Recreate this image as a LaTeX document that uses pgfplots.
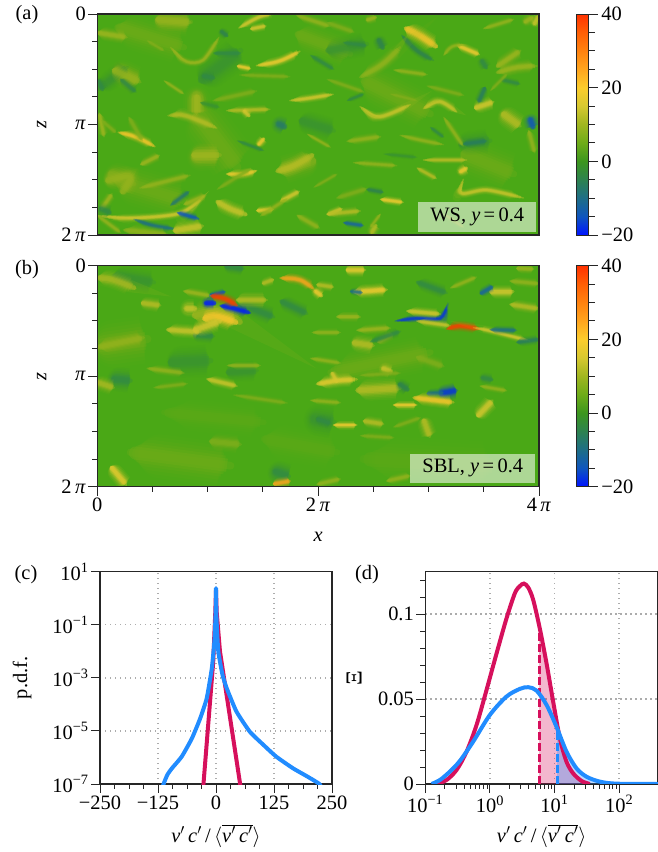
\documentclass[border=0pt]{standalone}
\usepackage{fontspec}
\setmainfont{Liberation Serif}
\usepackage{pgfplots}
\pgfplotsset{compat=1.18}
\definecolor{base}{RGB}{74,168,22}
\definecolor{m20}{RGB}{0,25,255}\definecolor{m18}{RGB}{5,50,225}\definecolor{m15}{RGB}{15,85,190}
\definecolor{m12}{RGB}{25,100,160}\definecolor{m10}{RGB}{30,110,135}\definecolor{m8}{RGB}{38,120,110}
\definecolor{m7}{RGB}{40,125,95}\definecolor{m6}{RGB}{45,130,80}\definecolor{m5}{RGB}{50,138,70}\definecolor{m3}{RGB}{58,148,50}
\definecolor{c3}{RGB}{92,170,24}\definecolor{c5}{RGB}{110,172,25}\definecolor{c7}{RGB}{130,175,28}\definecolor{c9}{RGB}{150,180,30}\definecolor{c10}{RGB}{160,182,32}\definecolor{c11}{RGB}{172,186,35}
\definecolor{c12}{RGB}{185,190,38}\definecolor{c14}{RGB}{205,198,45}\definecolor{c15}{RGB}{215,200,48}
\definecolor{c17}{RGB}{235,205,50}\definecolor{c18}{RGB}{245,205,50}\definecolor{c20}{RGB}{252,200,45}
\definecolor{c25}{RGB}{255,165,30}\definecolor{c30}{RGB}{255,130,15}\definecolor{c38}{RGB}{255,60,0}
\definecolor{mag}{RGB}{214,16,92}\definecolor{blu}{RGB}{33,140,255}\definecolor{spine}{gray}{0.15}
\newcommand\fs{\fontsize{20.5}{24}\selectfont}
\newcommand\ip{\textit{π}}
\newcommand\tenp[1]{10\textsuperscript{#1}}
\newcommand\vc{\textit{v}$'$\,\textit{c}$'$}
\newcommand\flux{\vc\,/\,$\langle\overline{\mbox{\vc}}\rangle$}
% one soft streak of the field: nested strokes, the wide ones shorter and fainter, so it tapers
\def\scan(#1,#2){\ifx\fx\empty\def\fx{#1}\def\fy{#2}\fi\def\lx{#1}\def\ly{#2}\futurelet\nxt\scanchk}
\def\scanchk{\ifx\nxt\relax\let\go\scanend\else\let\go\scan\fi\go}
\def\scanend\relax{}
\newcommand\lay[5]{\addplot[forget plot,smooth,line cap=round,draw=#1,opacity=#3,line width=#2*1bp,shorten >=#4bp,shorten <=#4bp] coordinates {#5};}
\newcommand\st[3]{%
\def\fx{}\scan#3\relax
\pgfmathsetmacro\Ln{veclen(\lx-\fx,\ly-\fy)/3}%
\pgfmathsetmacro\Sa{\Ln*.30}\pgfmathsetmacro\Sb{\Ln*.26}\pgfmathsetmacro\Sc{\Ln*.21}\pgfmathsetmacro\Sd{\Ln*.16}\pgfmathsetmacro\Se{\Ln*.11}\pgfmathsetmacro\Sf{\Ln*.05}%
\edef\tmp{\noexpand\lay{#2}{#1*2.0}{.07}{\Sa}{#3}\noexpand\lay{#2}{#1*1.7}{.09}{\Sb}{#3}\noexpand\lay{#2}{#1*1.4}{.13}{\Sc}{#3}\noexpand\lay{#2}{#1*1.1}{.2}{\Sd}{#3}\noexpand\lay{#2}{#1*.85}{.3}{\Se}{#3}\noexpand\lay{#2}{#1*.6}{.45}{\Sf}{#3}\noexpand\lay{#2}{#1*.35}{.35}{0}{#3}}\tmp}
\pgfplotsset{
 colormap={hm}{rgb255=(0,20,255) rgb255=(15,85,190) rgb255=(30,110,135) rgb255=(45,130,80) rgb255=(60,150,30) rgb255=(110,172,25) rgb255=(160,182,32) rgb255=(215,200,48) rgb255=(252,205,45) rgb255=(255,165,30) rgb255=(255,130,15) rgb255=(255,95,5) rgb255=(255,50,0)},
 common/.style={scale only axis,anchor=south west,font=\fs,axis line style={spine,line width=1.1bp},
  every tick/.style={spine,line width=.9bp},tick align=outside,major tick length=9bp,minor tick length=5bp,
  tick label style={font=\fs},label style={font=\fs},
  every x tick label/.append style={yshift=1bp},every y tick label/.append style={xshift=1bp}},
 heat/.style={common,width=441.7bp,height=221bp,xmin=0,xmax=1326,ymin=0,ymax=663,y dir=reverse,
  axis background/.style={fill=base},axis on top,
  ytick={0,331.5,663},yticklabels={0,\ip,2\,\ip},minor ytick={82.875,165.75,248.625,414.375,497.25,580.125},
  xtick pos=bottom,ytick pos=left,
  ylabel={\textit{z}},every axis y label/.style={at={(axis description cs:-0.126,0.5)},rotate=90,anchor=center},
  colormap name=hm,point meta min=-20,point meta max=40,colorbar,
  colorbar style={at={(parent axis.north east)},anchor=north west,xshift=29.3bp,width=12bp,height=221bp,scale only axis,
   ytick={-20,0,20,40},yticklabels={−20,0,20,40},minor y tick num=3,ytick pos=right,yticklabel pos=right,
   axis line style={spine,line width=.9bp},
   every tick/.style={spine,line width=.9bp},major tick length=9bp,minor tick length=6bp,tick align=outside,
   tick label style={font=\fs,xshift=0bp}}},
 pgrid/.style={grid=major,grid style={gray!65,line width=1.4bp,dash pattern=on 1.4bp off 3.6bp}},
}
\begin{document}
\begin{tikzpicture}[x=1bp,y=1bp]
\path[use as bounding box] (0,0) rectangle (658,852);
% ---------- (a)
\begin{axis}[heat,at={(97.3bp,617bp)},xtick=\empty]
\st{18}{c5}{(60,40)(260,100)}\st{24}{c5}{(300,300)(420,460)}\st{20}{c5}{(800,200)(1000,300)}\st{20}{c5}{(1100,420)(1250,480)}\st{20}{c5}{(60,500)(260,560)}
\st{16}{c5}{(600,60)(760,120)}\st{14}{c7}{(40,480)(110,510)}\st{14}{c7}{(290,430)(360,425)}\st{14}{c7}{(60,170)(120,200)}\st{14}{c7}{(298,240)(298,300)}\st{14}{c7}{(180,20)(280,24)}\st{14}{c7}{(650,440)(550,470)}
\st{16}{m3}{(310,200)(430,110)}\st{12}{m3}{(690,110)(810,90)}\st{12}{m3}{(610,320)(710,350)}\st{10}{m3}{(10,220)(90,160)}\st{12}{m3}{(1090,390)(1180,380)}
\st{5}{c20}{(63,355)(118,370)(173,398)}
\st{4.5}{c15}{(0,605)(108,612)(248,598)(318,548)}
\st{4.5}{m15}{(240,596)(275,606)(305,615)}
\st{4}{m10}{(110,616)(170,635)(235,645)}
\st{9}{c14}{(230,650)(316,636)}
\st{5}{c18}{(478,155)(550,140)(608,112)}
\st{4.5}{c15}{(578,260)(640,252)(708,241)}
\st{6}{c12}{(213,305)(268,306)(358,342)}
\st{5}{c18}{(388,480)(440,480)(478,470)}
\st{9}{c12}{(538,472)(590,455)(648,422)}
\st{5}{c15}{(550,562)(606,532)}
\st{8}{c14}{(358,562)(400,585)(448,602)}
\st{4.5}{c17}{(478,590)(528,586)}
\st{4.5}{c15}{(690,602)(735,584)}
\st{4.5}{c15}{(425,42)(488,8)(525,0)}
\st{4.5}{c15}{(460,45)(506,36)}
\st{10}{c9}{(178,16)(278,25)}
\st{7}{c10}{(0,56)(88,70)}
\st{10}{c10}{(298,248)(298,298)}
\st{4.5}{c12}{(388,290)(518,286)}
\st{11}{c10}{(288,423)(368,423)}
\st{5}{c10}{(130,452)(186,424)}
\st{10}{c9}{(48,168)(128,204)}
\st{4}{c10}{(220,100)(268,143)(318,138)(365,70)}
\st{4}{c18}{(420,156)(460,164)}
\st{5}{c18}{(484,392)(500,374)}
\st{5}{c15}{(441,291)(456,306)}
\st{5}{c10}{(6,298)(20,368)}
\st{10}{c9}{(30,500)(98,488)(75,535)}
\st{5}{c9}{(128,522)(278,484)}
\st{5}{c10}{(12,586)(44,540)}
\st{5}{c9}{(600,604)(666,642)}
\st{5}{c10}{(260,572)(326,544)}
\st{4}{c7}{(428,183)(578,188)}
\st{5}{c7}{(348,260)(478,231)}
\st{5}{c9}{(598,4)(698,37)}
\st{4}{c7}{(14,320)(56,356)}\st{5}{c7}{(95,310)(135,380)}\st{4}{c7}{(360,526)(460,464)}\st{4}{c9}{(570,554)(490,606)}\st{4}{c9}{(0,604)(70,656)}\st{7}{c9}{(80,648)(210,662)}
\st{5}{m5}{(70,196)(116,234)}
\st{9}{m8}{(544,330)(562,338)}
\st{5}{m5}{(350,118)(430,118)}
\st{4}{m3}{(310,266)(366,280)}
\st{5}{m6}{(372,52)(390,66)}
\st{4}{m8}{(220,574)(276,532)}
\st{4}{m5}{(640,124)(710,166)}
\st{7}{m5}{(10,584)(38,596)}
\st{6}{m5}{(318,186)(350,192)}
\st{6}{m5}{(2,200)(16,228)}
% right half
\st{9}{c20}{(924,42)(970,66)(1019,99)}
\st{5}{c18}{(1081,94)(1147,122)}
\st{3.5}{c9}{(1040,124)(1065,98)(1098,92)}
\st{5}{m6}{(914,64)(960,110)(1009,139)}
\st{5}{c14}{(789,278)(849,308)(939,272)}
\st{5}{c14}{(979,284)(1029,263)(1079,294)}
\st{7}{c15}{(1134,282)(1189,264)}
\st{7}{c9}{(789,190)(859,148)(909,100)}
\st{11}{c12}{(1219,300)(1269,336)}
\st{8}{m15}{(1300,316)(1308,340)}
\st{5}{c9}{(1295,350)(1313,416)}
\st{5}{m7}{(1099,390)(1169,381)}
\st{4}{c9}{(1040,310)(1098,396)}
\st{6}{c18}{(1090,473)(1108,463)}
\st{4.5}{c14}{(1099,496)(1095,538)(1169,528)(1279,552)}
\st{4.5}{c18}{(850,556)(918,565)}
\st{5}{c12}{(689,600)(789,591)}
\st{4}{m12}{(739,626)(799,635)}
\st{7}{c10}{(1199,176)(1260,160)(1319,156)}
\st{5}{m7}{(1164,220)(1144,266)}
\st{5}{c10}{(810,18)(836,10)}\st{6}{c10}{(1284,24)(1306,10)}
\st{6}{c14}{(1312,30)(1325,6)}
\st{4}{c12}{(960,462)(1018,494)}
\st{4}{c9}{(769,446)(899,455)}
\st{4}{c12}{(979,438)(1109,438)}
\st{4}{m5}{(739,86)(809,95)}
\st{7}{m6}{(845,78)(857,102)}
\st{5}{c7}{(719,552)(809,524)}
\st{6}{c12}{(824,656)(836,634)}
\st{4}{m6}{(809,526)(859,535)}
\st{4}{m5}{(1209,196)(1269,210)}
\st{6}{m5}{(1154,140)(1168,162)}
\st{7}{c10}{(1199,158)(1270,110)}
\st{4}{c9}{(909,364)(969,378)(1039,392)}
\st{4}{c7}{(690,196)(800,234)}\st{4}{c9}{(890,168)(990,182)}\st{4}{c7}{(990,216)(1100,244)}\st{5}{c9}{(750,382)(850,368)}
\st{4}{c9}{(1159,44)(1250,16)}\st{5}{c7}{(690,26)(770,54)}
\st{3}{c9}{(630,360)(700,400)}\st{3}{c7}{(650,520)(720,480)}\st{3}{c9}{(850,600)(820,640)}\st{3}{c7}{(1040,600)(1100,640)}\st{3}{c7}{(880,240)(960,260)}\st{3}{c7}{(1180,230)(1230,180)}\st{3}{c9}{(200,200)(260,240)}\st{3}{c7}{(150,80)(200,110)}\st{3}{m5}{(420,380)(500,410)}\st{3}{m3}{(860,420)(960,430)}\st{3}{m5}{(1000,340)(1040,370)}\st{3}{m5}{(750,260)(800,240)}
\node[fill=white,fill opacity=.55,text opacity=1,inner sep=0pt,minimum width=117.7bp,minimum height=29.7bp,anchor=north west,font=\fs] at (axis cs:963.5,564.5) {WS, \textit{y}\,=\,0.4};
\end{axis}
% ---------- (b)
\begin{axis}[heat,at={(97.3bp,365.3bp)},xtick={0,663,1326},xticklabels={0,2\,\ip,4\,\ip},minor xtick={165.75,331.5,497.25,828.75,994.5,1160.25},
 xlabel={\textit{x}},every axis x label/.style={at={(axis description cs:0.5,-0.226)},anchor=center}]
\st{22}{c5}{(100,560)(400,600)}\st{18}{c3}{(500,520)(720,560)}\st{24}{c3}{(800,580)(1200,600)}\st{16}{c3}{(200,440)(500,470)}
\st{24}{c5}{(10,240)(150,220)}\st{18}{c5}{(700,320)(1000,260)}
\st{16}{m3}{(220,290)(340,285)}\st{12}{m5}{(50,340)(100,345)}\st{16}{m3}{(650,460)(710,470)}\st{10}{m3}{(390,320)(480,315)}
\st{12}{m3}{(50,30)(170,50)}\st{12}{m5}{(535,618)(575,632)}\st{9}{m5}{(430,116)(530,154)}\st{8}{m5}{(550,106)(630,144)}
\st{7}{m5}{(290,208)(350,212)}\st{7}{m5}{(385,2)(440,9)}
\st{14}{c10}{(290,150)(360,140)(430,170)}
\st{4}{m15}{(335,90)(385,78)}
\st{7}{m20}{(326,113)(352,113)}
\st{6}{m20}{(369,120)(409,128)(459,142)}
\st{6}{c38}{(340,90)(385,100)(420,120)}
\st{10}{c20}{(319,160)(359,153)(419,171)}
\st{9}{c15}{(290,194)(330,180)(370,166)}
\st{7}{c14}{(209,192)(309,199)}
\st{8}{c12}{(419,103)(509,103)}
\st{9}{c14}{(268,128)(292,128)}
\st{7}{c12}{(134,112)(189,119)}
\st{9}{c11}{(0,36)(49,43)(114,68)}
\st{5.5}{c25}{(549,37)(609,43)(649,69)}
\st{6}{c18}{(655,76)(673,90)}
\st{5}{c12}{(497,53)(528,42)}
\st{5}{c10}{(259,76)(339,90)}
\st{9}{c9}{(0,245)(139,216)}
\st{8}{c11}{(0,350)(49,366)}
\st{5.5}{c14}{(329,340)(419,361)}
\st{8}{c17}{(42,604)(86,657)}
\st{5.5}{c25}{(529,655)(579,646)}
\st{5}{c9}{(150,308)(260,322)}\st{4}{c9}{(390,300)(490,300)}
\st{9}{c7}{(339,527)(430,536)}
\st{6}{m5}{(660,460)(700,473)}
\st{4}{c9}{(645,200)(730,200)}\st{4}{c9}{(640,278)(730,292)}\st{4}{c9}{(640,404)(730,411)}
\st{4}{c7}{(170,366)(270,354)}\st{4}{c7}{(410,388)(570,412)}
% right half
\st{5.5}{c38}{(1049,190)(1089,181)(1149,190)}
\st{4}{c15}{(1129,186)(1169,193)(1229,208)(1299,226)}
\st{4}{m18}{(894,166)(959,158)(1029,158)(1048,125)}
\st{5.5}{c15}{(929,136)(1029,145)}
\st{4.5}{c14}{(959,166)(1059,180)}
\st{8}{m18}{(1030,383)(1079,374)}
\st{5}{m10}{(990,384)(1040,381)}
\st{7}{c20}{(949,396)(1069,410)}
\st{4.5}{c18}{(889,418)(959,418)}
\st{8}{c15}{(1142,451)(1186,405)}
\st{8}{c12}{(980,463)(998,513)}
\st{4.5}{c18}{(709,478)(779,478)}
\st{6}{c12}{(799,466)(859,475)}
\st{7}{c17}{(659,355)(720,345)(779,341)}
\st{5}{c15}{(705,322)(719,349)}
\st{11}{c12}{(779,374)(909,367)}
\st{7}{c18}{(769,79)(869,72)}
\st{4}{m10}{(760,77)(795,81)}
\st{7}{c17}{(749,13)(804,13)}
\st{7}{c15}{(1179,78)(1249,78)}
\st{4}{c9}{(1060,67)(1138,34)}
\st{6}{c12}{(1239,116)(1325,129)}
\st{5}{m12}{(1150,84)(1188,62)}
\st{7}{m5}{(959,49)(1049,82)}
\st{5}{c10}{(779,194)(879,187)}
\st{9}{c12}{(769,231)(829,240)}
\st{5}{c9}{(842,230)(888,205)}
\st{4.5}{m10}{(1179,192)(1259,194)}
\st{5}{m7}{(1259,230)(1326,221)}
\st{7}{c14}{(858,308)(882,318)}
\st{4}{c7}{(789,329)(909,322)}
\st{7}{c7}{(959,274)(1039,302)}
\st{7}{m6}{(908,356)(932,372)}
\st{6}{m5}{(1155,336)(1185,342)}
\st{4}{c9}{(1149,361)(1229,375)}
\st{5}{c9}{(869,646)(939,630)}
\st{5}{c9}{(660,656)(729,640)}
\st{5}{c12}{(659,57)(709,64)}
\st{5}{c9}{(1239,46)(1326,54)}
\st{5}{c10}{(1259,8)(1310,10)}
\st{5}{c10}{(719,153)(789,153)}
\st{5}{m5}{(820,228)(910,197)}\st{4}{c7}{(890,484)(970,456)}\st{4}{c7}{(790,510)(890,516)}
\node[fill=white,fill opacity=.55,text opacity=1,inner sep=0pt,minimum width=125bp,minimum height=29.3bp,anchor=north west,font=\fs] at (axis cs:939,563) {SBL, \textit{y}\,=\,0.4};
\end{axis}
% ---------- (c)
\begin{axis}[common,pgrid,at={(100bp,68bp)},width=232bp,height=212.3bp,xmin=-250,xmax=250,ymode=log,ymin=1e-7,ymax=10,
 xtick={-250,-125,0,125,250},xticklabels={−250,−125,0,125,250},minor x tick num=3,
 ytick={10,0.1,1e-3,1e-5,1e-7},yticklabels={\tenp{1},\tenp{−1},\tenp{−3},\tenp{−5},\tenp{−7}},
 minor ytick={},xtick pos=bottom,ytick pos=left,
 ylabel={p.d.f.},every axis y label/.style={at={(axis description cs:-0.336,0.5)},rotate=90,anchor=center},
 xlabel={\flux},every axis x label/.style={at={(axis description cs:0.5,-0.245)},anchor=center}]
\addplot[mag,line width=4bp,line join=round] coordinates {(-29,4e-8)(-27,1e-7)(-6,4e-3)(-1.5,.3)(0,2)(1.5,.3)(8.6,9.8e-3)(52,1e-7)(55,4.5e-8)};
\addplot[blu,line width=4bp,line join=round,line cap=round,smooth,tension=.3] coordinates {(-117,6e-8)(-113,1e-7)(-105,2.2e-7)(-95,3.9e-7)(-74,1.07e-6)(-52,5.2e-6)(-34,3e-5)(-20,1.7e-4)(-9,2.3e-3)(-3,.031)(-.6,.4)(0,2.4)(.6,.4)(1.4,.13)(5,9.8e-3)(14,1.3e-3)(23,4.1e-4)(44,5.4e-5)(73,9.3e-6)(102,3e-6)(130,1.07e-6)(166,3.9e-7)(195,2e-7)(223,1e-7)(228,6e-8)};
\end{axis}
% ---------- (d)
\begin{axis}[common,pgrid,at={(425.3bp,68bp)},width=232.7bp,height=212.3bp,xmode=log,xmin=0.1,xmax=400,ymin=0,ymax=0.125,
 xtick={0.1,1,10,100},xticklabels={\tenp{−1},\tenp{0},\tenp{1},\tenp{2}},
 ytick={0,0.05,0.1},yticklabels={0,0.05,0.1},minor ytick={0.01,0.02,0.03,0.04,0.06,0.07,0.08,0.09,0.11,0.12},
 xtick pos=bottom,ytick pos=left,
 ylabel={\fontsize{23}{24}\selectfont Ξ},every axis y label/.style={at={(axis description cs:-0.306,0.5)},rotate=90,anchor=center},
 xlabel={\flux},every axis x label/.style={at={(axis description cs:0.5,-0.245)},anchor=center}]
\addplot[draw=none,fill=mag,fill opacity=.3] coordinates {(5.8,0)(5.8,.0914)(5.93,.0914)(7.52,.0711)(9.53,.0485)(12.1,.0269)(15.3,.0132)(19.4,.0063)(26.2,.0018)(35.2,0)} \closedcycle;
\addplot[draw=none,fill=blu,fill opacity=.3] coordinates {(11,0)(11,.033)(15.3,.0191)(21.9,.0092)(31.3,.0043)(50.2,.0014)(91,.0002)(378,0)} \closedcycle;
\addplot[mag,line width=4bp,smooth] coordinates {(.15,0)(.214,.0024)(.305,.0083)(.436,.0191)(.622,.0348)(.887,.0554)(1.27,.077)(1.81,.0976)(2.44,.1124)(2.91,.1165)(3.36,.118)(3.92,.1157)(4.68,.1084)(5.93,.0914)(7.52,.0711)(9.53,.0485)(12.1,.0269)(15.3,.0132)(19.4,.0063)(26.2,.0018)(35.2,0)};
\addplot[mag,line width=3bp,dash pattern=on 8bp off 3bp] coordinates {(5.8,0)(5.8,.0908)};
\addplot[blu,line width=4bp,smooth] coordinates {(.125,0)(.169,.0024)(.24,.0073)(.343,.0136)(.552,.025)(1,.0407)(1.81,.0515)(2.91,.056)(3.92,.057)(5.27,.055)(7.52,.0466)(10.7,.0338)(15.3,.0191)(21.9,.0092)(31.3,.0043)(50.2,.0014)(91,.0002)(378,0)(450,0)};
\addplot[blu,line width=3bp,dash pattern=on 8bp off 3bp] coordinates {(11,0)(11,.033)};
\end{axis}
\node[font=\fs] at (27bp,837bp) {(a)};
\node[font=\fs] at (27bp,582bp) {(b)};
\node[font=\fs] at (26bp,277bp) {(c)};
\node[font=\fs] at (367bp,277bp) {(d)};
\end{tikzpicture}
\end{document}
